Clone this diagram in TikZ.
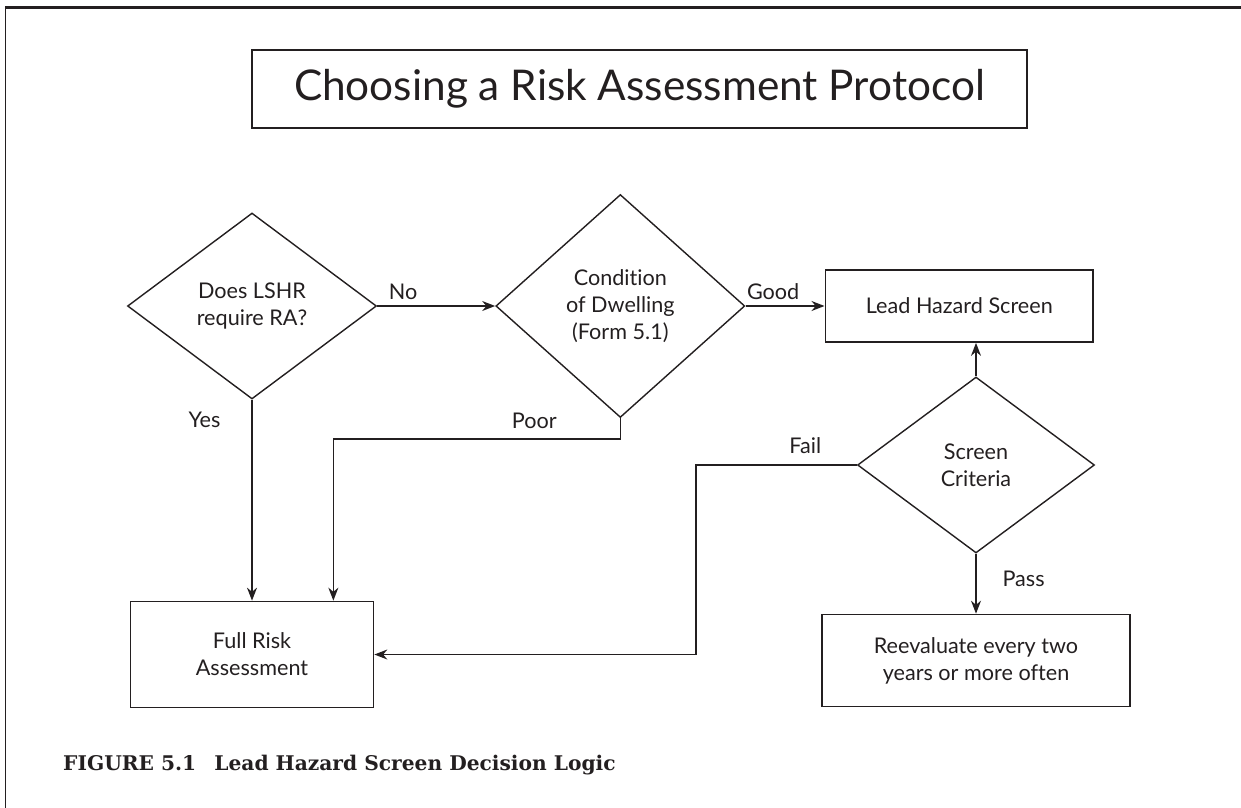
\documentclass[tikz,border=0pt]{standalone}
\usepackage{fontspec}
\setmainfont{Lato}[Ligatures=CommonOff]
\newfontfamily\capfont{DejaVu Serif}
\usetikzlibrary{shapes.geometric, arrows.meta, positioning, calc}
\definecolor{ink}{RGB}{35, 31, 32}

\begin{document}
\begin{tikzpicture}[
    x=0.02cm, y=-0.02cm,
    node distance=2cm,
    box/.style={rectangle, draw=ink, line width=1pt, text=ink, text centered, align=center, inner sep=0pt, font=\fontsize{12.3}{15.3}\selectfont},
    decision/.style={diamond, draw=ink, line width=0.8pt, text=ink, align=center, inner sep=0pt, font=\fontsize{12.3}{15.3}\selectfont},
    lbl/.style={text=ink, font=\fontsize{12.3}{15.3}\selectfont},
    arrow/.style={draw=ink, line width=0.8pt, -{Stealth[length=0.26cm, width=0.2cm]}}
]
\useasboundingbox (0,0) rectangle (1241,808);

% Frame
\draw[ink, line width=1.3pt] (5,7.5) -- (1241,7.5);
\draw[ink, line width=0.8pt] (5.5,7) -- (5.5,808);

% Title
\node[box, line width=0.9pt, minimum width=15.5cm, minimum height=1.56cm, font=\fontsize{24.1}{28}\selectfont] (title) at (639.5,89) {Choosing a Risk Assessment Protocol};

% Decisions
\node[decision, minimum width=4.98cm, minimum height=3.72cm] (lshr) at (252,306) {Does LSHR\\require RA?};
\node[decision, minimum width=4.98cm, minimum height=4.46cm, right=2.36cm of lshr] (cond) {Condition\\of Dwelling\\(Form 5.1)};
\node[decision, minimum width=4.74cm, minimum height=3.52cm] (screen) at (976,465) {Screen\\Criteria};

% Outcomes
\node[box, minimum width=5.36cm, minimum height=1.44cm, right=1.58cm of cond] (lead) {Lead Hazard Screen};
\node[box, minimum width=6.16cm, minimum height=1.84cm, below=1.2cm of screen] (reeval) {Reevaluate every two\\years or more often};
\node[box, minimum width=4.86cm, minimum height=2.12cm, below=4.02cm of lshr] (full) {Full Risk\\Assessment};
\coordinate (poorin) at ($(full.north east)+(-41,0)$);

% Arrows
\draw[arrow] (lshr.east) -- node[lbl, above, pos=0.22] {No} (cond.west);
\draw[arrow] (cond.east) -- node[lbl, above, pos=0.35] {Good} (lead.west);
\draw[arrow] (lshr.south) -- node[lbl, left=0.5cm, pos=0.1] {Yes} (lshr.south |- full.north);
\draw[arrow] (cond.south) -- ++(0,21) -| node[lbl, above=2.5pt, pos=0.15] {Poor} (poorin);
\draw[arrow] (screen.north) -- (screen.north |- lead.south);
\draw[arrow] (screen.west) -- node[lbl, above=2.5pt, pos=0.32] {Fail} ++(-161,0) |- (full.east);
\draw[arrow] (screen.south) -- node[lbl, right=0.4cm, pos=0.42] {Pass} (reeval.north);

% Caption
\node[anchor=base west, text=ink, font=\capfont\bfseries\fontsize{11.5}{14}\selectfont] (caption) at (57,770) {FIGURE 5.1\hspace{0.9em}Lead Hazard Screen Decision Logic};

\end{tikzpicture}
\end{document}
